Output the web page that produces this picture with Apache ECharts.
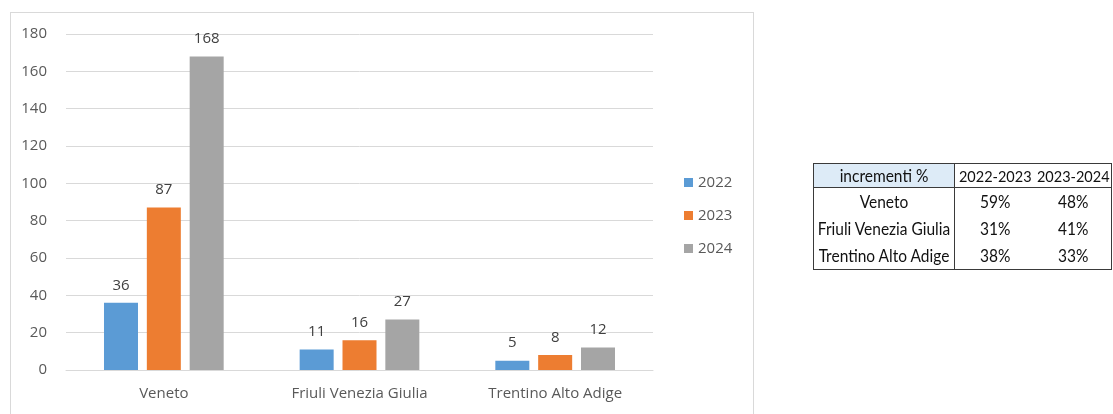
<!DOCTYPE html>
<html>
<head>
<meta charset="utf-8">
<script src="https://cdn.jsdelivr.net/npm/echarts@6/dist/echarts.min.js"></script>
<style>
  body { margin: 0; background: #fff; }
  #frame { position: absolute; left: 10px; top: 12px; width: 742px; height: 410px; border: 1px solid #d9d9d9; }
  #chart { position: absolute; left: 0; top: 0; width: 1113px; height: 414px; }
  #incr { position: absolute; left: 813px; top: 163px; width: 298px; table-layout: fixed; border-collapse: collapse; border: 1px solid #3a3a3a;
          font-family: Lato, "Open Sans", sans-serif; font-size: 15.5px; color: #111; }
  #incr td { text-align: center; padding: 0; height: 27px; line-height: 27px; white-space: nowrap; overflow: visible; }
  #incr td span { display: inline-block; transform: scaleY(1.12); }
  #incr tr.head td { height: 23px; line-height: 23px; border-bottom: 1px solid #3a3a3a; font-size: 14.5px; }
  #incr tr.head td.first { font-size: 15.5px; }
  #incr td.first { border-right: 1px solid #3a3a3a; }
  #incr td.hl { background: #ddebf7; }
</style>
</head>
<body>
<div id="frame"></div>
<div id="chart"></div>
<table id="incr"><colgroup><col style="width:141px"><col style="width:81px"><col style="width:76px"></colgroup><tbody id="incrBody"></tbody></table>
<script>
var regions = ['Veneto', 'Friuli Venezia Giulia', 'Trentino Alto Adige'];
var years = ['2022', '2023', '2024'];
var v2022 = [36, 11, 5];
var v2023 = [87, 16, 8];
var v2024 = [168, 27, 12];
var colors = ['#5b9bd5', '#ed7d31', '#a5a5a5'];

var tableHead = ['incrementi %', '2022-2023', '2023-2024'];
var incr2223 = ['59%', '31%', '38%'];
var incr2324 = ['48%', '41%', '33%'];

function cell(txt, cls) {
    return '<td' + (cls ? ' class="' + cls + '"' : '') + '><span>' + txt + '</span></td>';
}

// tabella incrementi
var html = '<tr class="head">' + cell(tableHead[0], 'first hl') + cell(tableHead[1]) + cell(tableHead[2]) + '</tr>';
for (var i = 0; i < regions.length; i++) {
    html += '<tr>' + cell(regions[i], 'first') + cell(incr2223[i]) + cell(incr2324[i]) + '</tr>';
}
document.getElementById('incrBody').innerHTML = html;

var myChart = echarts.init(document.getElementById('chart'));

var values = [v2022, v2023, v2024];
var series = [];
for (var s = 0; s < years.length; s++) {
    series.push({
        name: years[s],
        type: 'bar',
        data: values[s],
        barWidth: 34,
        barGap: '26%',
        itemStyle: {color: colors[s]},
        label: {
            show: true,
            position: 'top',
            distance: 10,
            color: '#404040',
            fontFamily: 'Open Sans',
            fontSize: 15
        }
    });
}

option = {
    animation: false,
    textStyle: {fontFamily: 'Open Sans'},
    grid: {left: 66, right: 460, top: 34, bottom: 44},
    legend: {
        orient: 'vertical',
        left: 679,
        top: 170,
        itemWidth: 9,
        itemHeight: 9,
        itemGap: 18,
        icon: 'rect',
        textStyle: {color: '#595959', fontSize: 15, fontFamily: 'Open Sans'},
        data: years
    },
    xAxis: {
        type: 'category',
        data: regions,
        axisLine: {lineStyle: {color: '#d9d9d9'}},
        axisTick: {show: false},
        axisLabel: {color: '#595959', fontSize: 15, margin: 16}
    },
    yAxis: {
        type: 'value',
        min: 0,
        max: 180,
        interval: 20,
        axisLine: {show: false},
        axisTick: {show: false},
        axisLabel: {color: '#595959', fontSize: 15, margin: 19},
        splitLine: {lineStyle: {color: '#d9d9d9'}}
    },
    series: series
};

myChart.setOption(option);
</script>
</body>
</html>
